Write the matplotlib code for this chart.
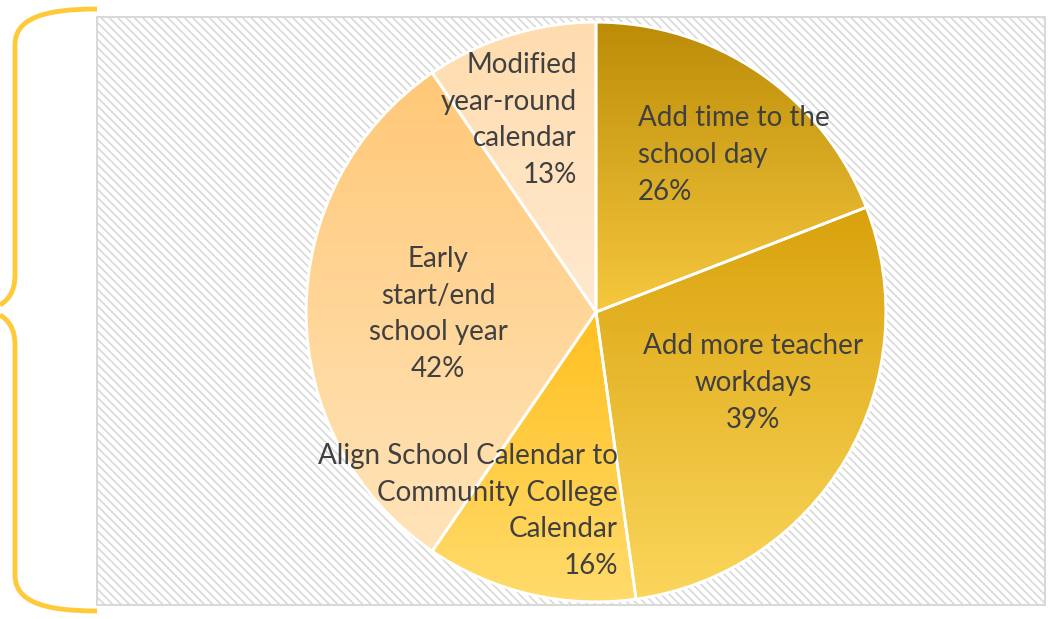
import numpy as np
import matplotlib
matplotlib.use("Agg")
import matplotlib.pyplot as plt
from matplotlib.path import Path
from matplotlib.patches import PathPatch, Rectangle
from matplotlib.colors import LinearSegmentedColormap

# slice data (clockwise from 12 o'clock)
labels = ["Add time to the\nschool day", "Add more teacher\nworkdays",
          "Align School Calendar to\nCommunity College\nCalendar",
          "Early\nstart/end\nschool year", "Modified\nyear-round\ncalendar"]
values = [26, 39, 16, 42, 13]
pct_text = ["26%", "39%", "16%", "42%", "13%"]

# gradient (top colour, bottom colour) per slice
grad_top = ["#BC8C08", "#D9A20C", "#FFC020", "#FFC877", "#FFDCAE"]
grad_bot = ["#F6C83E", "#FBD65C", "#FFDB6C", "#FFE4BA", "#FFE9D0"]

# label anchor (pixel x, centre y of block) and alignment
lab_x = [638, 753, 618, 438, 577]
lab_y = [155, 383, 511, 314, 120]
lab_ha = ["left", "center", "right", "center", "right"]

W, H = 1054, 619
fig = plt.figure(figsize=(W / 100, H / 100), dpi=100)
plt.rcParams['hatch.color'] = '#DEDEDE'
plt.rcParams['hatch.linewidth'] = 1.2

# background axes in pixel coordinates
bg = fig.add_axes([0, 0, 1, 1])
bg.set_xlim(0, W)
bg.set_ylim(H, 0)
bg.axis('off')
bg.add_patch(Rectangle((97, 17), 948, 588, facecolor='white', edgecolor='#D9D9D9',
                       hatch='\\\\\\\\', linewidth=1.5))

# yellow curly brace
codes = [Path.MOVETO, Path.CURVE4, Path.CURVE4, Path.CURVE4,
         Path.LINETO,
         Path.CURVE4, Path.CURVE4, Path.CURVE4]
verts = [(97, 9), (40, 9), (15, 20), (15, 45),
         (15, 275),
         (15, 292), (8, 300), (0, 305)]
verts2 = [(0, 315), (8, 320), (15, 328), (15, 345),
          (15, 575),
          (15, 600), (40, 611), (97, 611)]
for v in (verts, verts2):
    bg.add_patch(PathPatch(Path(v, codes), fill=False, edgecolor='#FFCA3A',
                           linewidth=3.5, capstyle='butt'))

# pie axes: centre (596,312), radius 291 px
cx, cy, r = 596, 312, 291
ax = fig.add_axes([(cx - r) / W, (H - cy - r) / H, 2 * r / W, 2 * r / H])
wedges, _ = ax.pie(values, startangle=90, counterclock=False, radius=1,
                   wedgeprops=dict(edgecolor='white', linewidth=2))

for w, c1, c2 in zip(wedges, grad_top, grad_bot):
    th = np.radians(np.linspace(w.theta1, w.theta2, 200))
    ys = np.concatenate([[0], np.sin(th)])
    y0, y1 = ys.min(), ys.max()
    cmap = LinearSegmentedColormap.from_list("g", [c1, c2])
    grad = np.linspace(0, 1, 256).reshape(-1, 1)
    im = ax.imshow(grad, cmap=cmap, extent=(-1, 1, y0, y1), aspect='auto',
                   origin='upper', zorder=1)
    im.set_clip_path(w)
    w.set_facecolor('none')
    w.set_zorder(2)
ax.set_xlim(-1.004, 1.004)
ax.set_ylim(-1.004, 1.004)
ax.set_aspect('equal')
ax.axis('off')

# text overlay
tx = fig.add_axes([0, 0, 1, 1])
tx.set_xlim(0, W)
tx.set_ylim(H, 0)
tx.axis('off')
for lab, pct, x, y, ha in zip(labels, pct_text, lab_x, lab_y, lab_ha):
    tx.text(x, y, lab + "\n" + pct, ha=ha, va='center', fontsize=20,
            color='#404040', family='Lato', linespacing=1.5,
            multialignment=ha)

fig.savefig("out.png", dpi=100)
